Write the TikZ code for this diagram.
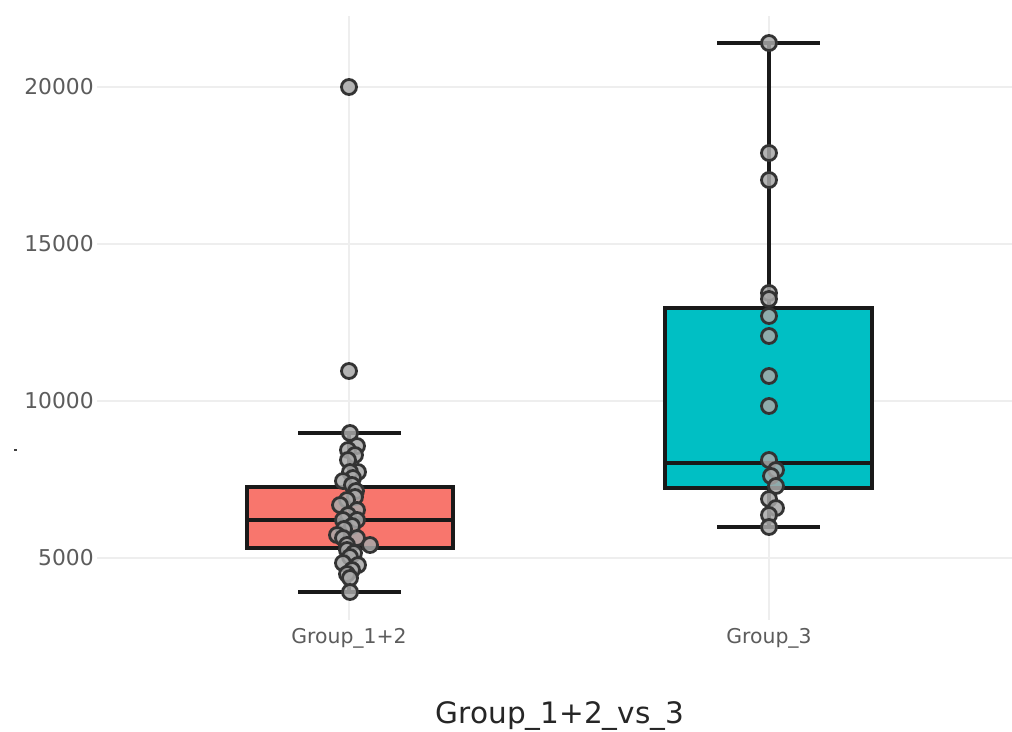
\documentclass[tikz,border=0pt]{standalone}
\usepackage{fontspec}
\setmainfont{DejaVu Sans}

\definecolor{boxred}{HTML}{F8766D}
\definecolor{boxteal}{HTML}{00BFC4}
\definecolor{gridgrey}{HTML}{EEEEEE}
\definecolor{ticktext}{HTML}{5C5C5C}
\definecolor{ptfill}{HTML}{A8A8A8}

\tikzset{
  grid line/.style={gridgrey, line width=1pt},
  boxbody/.style={draw=black!90, line width=2.6pt},
  whisker/.style={black!90, line width=2.6pt},
  datapt/.style={draw=black!80, line width=2pt, fill=ptfill, fill opacity=0.85},
  ticklabel/.style={anchor=east, inner sep=0pt, text=ticktext, font=\fontsize{15.5}{18}\selectfont},
  catlabel/.style={inner sep=0pt, text=ticktext, font=\fontsize{14.5}{17}\selectfont},
}

\begin{document}
\begin{tikzpicture}[x=0.025cm,y=-0.025cm]
    \useasboundingbox[fill=white] (0,0) rectangle (1012,731);
    % grid
    \foreach \y in {87,244,401,558}
        \draw[grid line] (97,\y) -- (1012,\y);
    \foreach \x in {349,769}
        \draw[grid line] (\x,16) -- (\x,620);
    \foreach \v/\y in {5000/558,10000/401,15000/244,20000/87}
        \node[ticklabel] (tick\v) at (94,\y) {\v};
    \fill[black!75] (14,449) rectangle (17,451);

    % Group_1+2
    \draw[whisker] (349,433) -- (349,487);
    \draw[whisker] (349,548) -- (349,592);
    \draw[whisker] (298,433) -- (401,433);
    \draw[whisker] (298,592) -- (401,592);
    \draw[boxbody, fill=boxred] (247,487) rectangle (453,548);
    \draw[boxbody] (247,520) -- (453,520);

    % Group_3
    \draw[whisker] (769,43) -- (769,308);
    \draw[whisker] (769,488) -- (769,527);
    \draw[whisker] (717,43) -- (820,43);
    \draw[whisker] (717,527) -- (820,527);
    \draw[boxbody, fill=boxteal] (665,308) rectangle (872,488);
    \draw[boxbody] (665,463) -- (872,463);

    % points
    \foreach \x/\y in {349/87,349/371,350/433,357/446,348/450,355/455,348/460,358/472,350/472,
        353/478,343/481,352/485,356/491,355/497,347/500,340/505,357/510,348/515,343/520,
        357/520,352/526,344/529,337/535,343/538,357/538,370/545,347/545,347/550,354/553,
        350/557,358/565,343/563,352/570,347/574,350/578,350/592}
        \draw[datapt] (\x,\y) circle (7.5);
    \foreach \x/\y in {769/43,769/153,769/180,769/293,769/299,769/316,769/336,769/376,
        769/406,769/460,776/470,771/476,776/486,769/499,776/508,769/515,769/527}
        \draw[datapt] (\x,\y) circle (7.5);

    \node[catlabel] (grp12) at (349,638) {Group\_1+2};
    \node[catlabel] (grp3) at (769,638) {Group\_3};
    \node[inner sep=0pt, text=black!85, font=\fontsize{21}{25}\selectfont] (xtitle) at (560,716) {Group\_1+2\_vs\_3};
\end{tikzpicture}
\end{document}
